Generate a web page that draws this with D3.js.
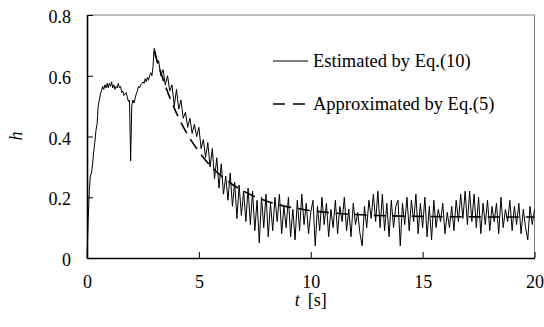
<!DOCTYPE html>
<html>
<head>
<meta charset="utf-8">
<script src="https://cdn.jsdelivr.net/npm/d3@7"></script>
<style>
html,body{margin:0;padding:0;background:#fff;}
svg{display:block;}
text{font-family:"Liberation Serif","Times New Roman",serif;fill:#000;}
</style>
</head>
<body>
<svg id="chart" width="544" height="327"></svg>
<script>
// ---- data ----
const xTicks = [0, 5, 10, 15, 20];
const yTicks = [0, 0.2, 0.4, 0.6, 0.8];
const seriesNames = ["Estimated by Eq.(10)", "Approximated by Eq.(5)"];

// Estimated (solid), start-up part, irregular times
const estStartT = [0.00,0.05,0.10,0.15,0.20,0.25,0.30,0.35,0.40,0.45,0.50,0.55,0.60,0.65,0.70,
  0.75,0.80,0.85,0.90,0.95,1.00,1.05,1.10,1.15,1.20,1.25,1.30,1.35,1.40,1.45,1.50,1.55,1.60,1.65,
  1.70,1.75,1.80,1.85,1.90,1.95,2.00,2.05,2.10,2.15,2.20,2.25,2.30,2.35,2.40,2.45,2.50,2.55,2.60,
  2.65,2.70,2.75,2.80,2.85,2.90,2.95,3.00,3.05,3.10,3.15,3.20];
const estStartH = [0.00,0.12,0.22,0.27,0.28,0.31,0.35,0.38,0.42,0.44,0.50,0.52,0.54,0.55,0.565,
  0.555,0.57,0.56,0.575,0.56,0.575,0.565,0.58,0.56,0.57,0.555,0.565,0.56,0.575,0.56,0.565,0.545,0.55,0.535,
  0.54,0.545,0.53,0.515,0.52,0.32,0.50,0.52,0.51,0.525,0.54,0.55,0.565,0.56,0.57,0.575,0.58,0.575,0.59,
  0.58,0.595,0.585,0.60,0.61,0.60,0.63,0.69,0.68,0.66,0.64,0.65];

// Estimated (solid), t = 3.3 s to 20.0 s every 0.1 s
const estTailStart = 3.3, estTailStep = 0.1;
const estTailH = [
  0.60,0.62,0.57,0.60,0.55,0.57,0.50,0.555,0.49,0.52,
  0.46,0.48,0.43,0.46,0.41,0.44,0.40,0.43,0.36,0.39,
  0.33,0.38,0.30,0.36,0.26,0.33,0.23,0.31,0.21,0.27,
  0.19,0.28,0.17,0.25,0.13,0.24,0.14,0.22,0.12,0.23,
  0.11,0.22,0.09,0.19,0.05,0.20,0.10,0.21,0.07,0.18,
  0.09,0.20,0.12,0.21,0.08,0.17,0.10,0.20,0.07,0.16,
  0.06,0.19,0.09,0.21,0.11,0.18,0.08,0.15,0.19,0.04,
  0.17,0.09,0.20,0.11,0.18,0.07,0.16,0.10,0.19,0.08,
  0.17,0.12,0.20,0.09,0.16,0.07,0.18,0.11,0.15,0.08,
  0.04,0.17,0.10,0.19,0.13,0.21,0.12,0.22,0.10,0.21,
  0.09,0.18,0.07,0.19,0.10,0.17,0.19,0.04,0.18,0.11,
  0.20,0.09,0.19,0.12,0.21,0.08,0.18,0.10,0.20,0.07,
  0.17,0.06,0.19,0.10,0.16,0.12,0.18,0.08,0.15,0.10,
  0.17,0.09,0.19,0.12,0.21,0.13,0.22,0.11,0.22,0.12,
  0.21,0.10,0.20,0.08,0.18,0.11,0.19,0.09,0.17,0.12,
  0.18,0.08,0.20,0.10,0.16,0.12,0.19,0.09,0.17,0.11,
  0.18,0.08,0.16,0.10,0.06,0.17,0.11,0.16
];

// Approximated (dashed)
const approxT = [3.0,3.5,4.0,4.5,5.0,5.5,6.0,6.5,7.0,7.5,8.0,8.5,9.0,9.5,10,10.5,11,11.5,12,13,14,15,16,17,18,19,20];
const approxH = [0.680,0.567,0.477,0.406,0.350,0.305,0.270,0.242,0.220,0.202,0.188,0.177,0.168,0.162,0.156,0.152,0.148,0.145,0.143,0.140,0.138,0.137,0.136,0.136,0.135,0.135,0.135];

// ---- build ----
const estimated = estStartT.map((t, i) => ({t, h: estStartH[i]}))
  .concat(estTailH.map((h, i) => ({t: +(estTailStart + i * estTailStep).toFixed(2), h})));
const approximated = approxT.map((t, i) => ({t, h: approxH[i]}));

const svg = d3.select("#chart");
const L = 87, R = 534.5, T = 15, B = 258;
const x = d3.scaleLinear().domain([0, 20]).range([L, R]);
const y = d3.scaleLinear().domain([0, 0.8]).range([B, T]);

// frame: top & right gray
svg.append("line").attr("x1", L).attr("x2", R).attr("y1", T).attr("y2", T)
  .attr("stroke", "#7f7f7f").attr("stroke-width", 1);
svg.append("line").attr("x1", R).attr("x2", R).attr("y1", T).attr("y2", B)
  .attr("stroke", "#7f7f7f").attr("stroke-width", 1);

svg.append("path").datum(approximated)
  .attr("fill", "none").attr("stroke", "#000").attr("stroke-width", 1.6)
  .attr("stroke-dasharray", "12,7")
  .attr("d", d3.line().curve(d3.curveMonotoneX).x(d => x(d.t)).y(d => y(d.h)));

svg.append("path").datum(estimated)
  .attr("fill", "none").attr("stroke", "#000").attr("stroke-width", 1)
  .attr("stroke-linejoin", "round")
  .attr("d", d3.line().x(d => x(d.t)).y(d => y(d.h)));

// axes
const xAxis = d3.axisBottom(x).tickValues(xTicks).tickFormat(d3.format("d"))
  .tickSizeInner(-6).tickSizeOuter(0).tickPadding(17);
const gx = svg.append("g").attr("transform", `translate(0,${B})`).call(xAxis);
gx.attr("font-family", null);
gx.select(".domain").attr("stroke", "#000").attr("stroke-width", 1.6);
gx.selectAll(".tick line").attr("stroke", "#000").attr("stroke-width", 1);
gx.selectAll(".tick text").attr("font-size", 18);

const yAxis = d3.axisLeft(y).tickValues(yTicks).tickFormat(d => d === 0 ? "0" : d3.format(".1f")(d))
  .tickSizeInner(-6).tickSizeOuter(0).tickPadding(16);
const gy = svg.append("g").attr("transform", `translate(${L},0)`).call(yAxis);
gy.attr("font-family", null);
gy.select(".domain").attr("stroke", "#000").attr("stroke-width", 1.6);
gy.selectAll(".tick line").attr("stroke", "#000").attr("stroke-width", 1);
gy.selectAll(".tick text").attr("font-size", 18).attr("dy", "0.42em");

// axis titles
const xt = svg.append("text").attr("x", x(10)).attr("y", 306).attr("text-anchor", "middle").attr("font-size", 18);
xt.append("tspan").attr("font-style", "italic").text("t");
xt.append("tspan").text("\u2009 [s]");

svg.append("text").attr("transform", "translate(22,136) rotate(-90)")
  .attr("text-anchor", "middle").attr("font-size", 18).attr("font-style", "italic").text("h");

// legend
const legY = [61, 104];
const leg = svg.append("g");
leg.append("line").attr("x1", 273).attr("x2", 308).attr("y1", legY[0]).attr("y2", legY[0])
  .attr("stroke", "#000").attr("stroke-width", 1);
leg.append("line").attr("x1", 273).attr("x2", 308).attr("y1", legY[1]).attr("y2", legY[1])
  .attr("stroke", "#000").attr("stroke-width", 1.6).attr("stroke-dasharray", "12,8");
seriesNames.forEach((s, i) => {
  leg.append("text").attr("x", 313).attr("y", legY[i]).attr("dy", "0.35em")
    .attr("font-size", 18.5).text(s);
});
</script>
</body>
</html>
